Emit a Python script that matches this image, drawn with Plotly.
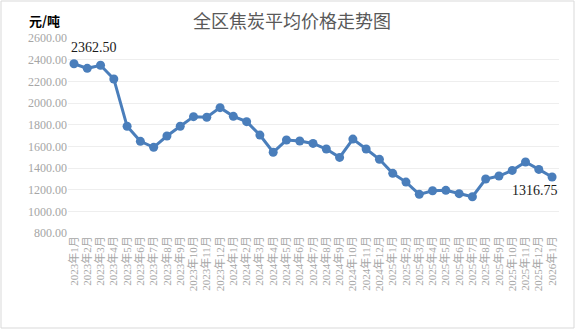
import plotly.graph_objects as go

months = ([f"2023年{m}月" for m in range(1, 13)] + [f"2024年{m}月" for m in range(1, 13)]
          + [f"2025年{m}月" for m in range(1, 13)] + ["2026年1月"])
prices = [2362.50, 2320, 2348, 2222, 1785, 1646, 1591, 1695, 1785, 1874, 1868, 1957,
          1877, 1828, 1704, 1545, 1658, 1649, 1627, 1575, 1498, 1667, 1575, 1480,
          1351, 1270, 1157, 1190, 1194, 1163, 1135, 1298, 1326, 1378, 1455, 1387, 1316.75]
title_text = "全区焦炭平均价格走势图"
unit_text = "元/吨"

W, H = 576, 330
ML, MR, MT, MB = 68, 17, 38, 97
PW, PH = W - ML - MR, H - MT - MB

blue = "#4A7EBB"
fig = go.Figure()
fig.add_trace(go.Scatter(
    x=list(range(len(months))), y=prices, mode="lines+markers",
    line=dict(color=blue, width=3),
    marker=dict(color=blue, size=9),
    hoverinfo="skip", showlegend=False,
))

fig.update_layout(
    width=W, height=H,
    margin=dict(l=ML, r=MR, t=MT, b=MB),
    paper_bgcolor="white", plot_bgcolor="white",
    xaxis=dict(
        tickmode="array", tickvals=list(range(len(months))), ticktext=months,
        tickangle=-90, range=[-0.45, len(months) - 0.48],
        showgrid=False, zeroline=False, showline=False, ticks="",
        tickfont=dict(family="Liberation Serif, Noto Sans CJK SC", size=11, color="#a6a6a6"),
    ),
    yaxis=dict(
        range=[800, 2600], dtick=200, tickformat=".2f",
        showgrid=True, gridcolor="#eeeeee", gridwidth=1, zeroline=False,
        showline=False, ticks="",
        tickfont=dict(family="Liberation Serif", size=12, color="#a6a6a6"),
    ),
)

fig.add_annotation(
    x=0, y=prices[0], text=f"{prices[0]:.2f}", showarrow=False,
    xanchor="left", yanchor="bottom", xshift=-5, yshift=7,
    font=dict(family="Liberation Serif", size=14, color="#1a1a1a"),
)
fig.add_annotation(
    x=len(prices) - 1, y=prices[-1], text=f"{prices[-1]:.2f}", showarrow=False,
    xanchor="right", yanchor="top", xshift=8, yshift=-4,
    font=dict(family="Liberation Serif", size=14, color="#1a1a1a"),
)
fig.add_annotation(
    xref="paper", yref="paper", x=(W / 2 + 4 - ML) / PW, y=(H - MB - 20) / PH,
    text=title_text, showarrow=False, xanchor="center", yanchor="middle",
    font=dict(family="Noto Sans CJK SC", size=18, color="#595959"),
)
fig.add_annotation(
    xref="paper", yref="paper", x=(27 - ML) / PW, y=(H - MB - 20) / PH,
    text=f"<b>{unit_text}</b>", showarrow=False, xanchor="left", yanchor="middle",
    font=dict(family="Noto Sans CJK SC", size=13, color="#000000"),
)
fig.add_shape(
    type="rect", xref="paper", yref="paper",
    x0=(1 - ML) / PW, x1=(W - 2 - ML) / PW,
    y0=(H - MB - (H - 2)) / PH, y1=(H - MB - 1) / PH,
    line=dict(color="#d9d9d9", width=1), fillcolor="rgba(0,0,0,0)", layer="below",
)

fig.write_html("out.html")
